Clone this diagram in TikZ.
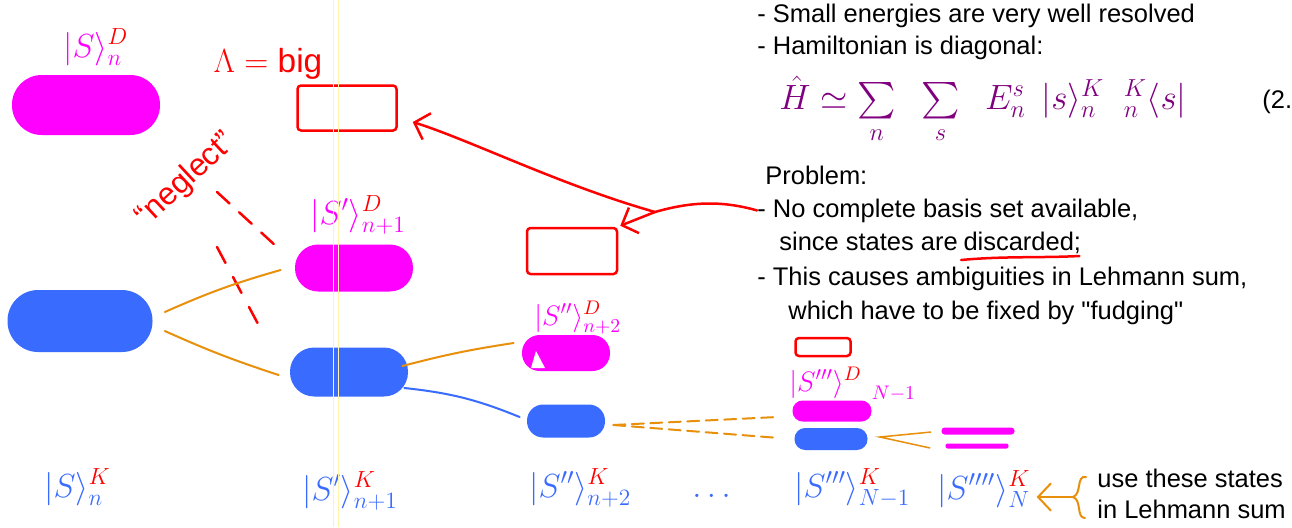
\documentclass[tikz,border=0pt]{standalone}
\usepackage{fix-cm}
\usepackage{exscale}
\usepackage{fontspec}
\setmainfont{Liberation Sans}
\newfontfamily\notefont{Liberation Sans}
\usetikzlibrary{arrows.meta,positioning,calc}
\definecolor{stateMag}{HTML}{FF00FF}
\definecolor{stateBlue}{HTML}{3A6BFF}
\definecolor{linkOrange}{HTML}{E8900C}
\definecolor{markRed}{HTML}{FF0000}
\definecolor{eqPurple}{HTML}{800080}
\definecolor{pageYellow}{HTML}{FFF4A8}

\begin{document}
\begin{tikzpicture}[
    x=0.2mm, y=-0.2mm,
    >={Straight Barb[length=2.6mm,width=5.5mm]},
    pill/.style 2 args={rectangle, inner sep=0pt, draw=none, minimum width=#1*0.2mm, minimum height=#2*0.2mm, rounded corners=#2*0.1mm-0.2pt},
    magstate/.style={fill=stateMag},
    bluestate/.style={fill=stateBlue},
    cutbox/.style 2 args={rectangle, inner sep=0pt, draw=markRed, line width=0.5mm, rounded corners=2pt, minimum width=#1*0.2mm, minimum height=#2*0.2mm},
    dlabel/.style={anchor=base west, inner sep=0pt, text=stateMag, font=\fontsize{19}{22}\selectfont},
    klabel/.style={anchor=base west, inner sep=0pt, text=stateBlue, font=\fontsize{19}{22}\selectfont},
    txt/.style={anchor=base west, inner sep=0pt, font=\notefont\fontsize{14.5}{17}\selectfont},
    redpen/.style={draw=markRed, line width=0.5mm, line cap=round},
    orangepen/.style={draw=linkOrange, line width=0.4mm, line cap=round},
    bluepen/.style={draw=stateBlue, line width=0.4mm, line cap=round},
  ]
  \useasboundingbox (0,0) rectangle (1292,527);
  \fill[white] (0,0) rectangle (1292,527);

  % States (D = discarded, magenta; K = kept, blue)
  \node[pill={148}{60}, magstate] (mS)  at (86,105) {};
  \node[pill={145}{62}, bluestate] (bS) at (80,321) {};
  \node[pill={118}{47}, magstate] (mS1)  at (354,268) {};
  \node[pill={118}{49}, bluestate] (bS1) at (349,372) {};
  \node[pill={88}{36}, magstate] (mS2)  at (566,353) {};
  \node[pill={78}{33}, bluestate] (bS2) at (566,421) {};
  \node[pill={79}{21}, magstate] (mS3)  at (832,411) {};
  \node[pill={73}{22}, bluestate] (bS3) at (831,439) {};
  \node[pill={73}{7}, magstate] (mS4a) at (978,431) {};
  \node[pill={63}{5}, magstate] (mS4b) at (977,446) {};
  \fill[white] (531,368) -- (545,368) -- (536,351) -- cycle;

  % Empty boxes
  \node[cutbox={99}{45}] (cut1) at (347,108) {};
  \node[cutbox={90}{46}] (cut2) at (572,251) {};
  \node[cutbox={55}{18}] (cut3) at (823,347) {};

  % D labels
  \node[dlabel] (lmS)  at (63,57)   {$|S\rangle^{{\color{markRed}D}}_{n}$};
  \node[dlabel] (lmS1) at (310,224) {$|S'\rangle^{{\color{markRed}D}}_{n+1}$};
  \node[dlabel, font=\fontsize{16}{19}\selectfont] (lmS2) at (534,325) {$|S''\rangle^{{\color{markRed}D}}_{n+2}$};
  \node[dlabel, font=\fontsize{16}{19}\selectfont] (lmS3) at (789,391) {$|S'''\rangle^{{\color{markRed}D}}_{\quad N-1}$};

  % K labels
  \node[klabel] (lbS)  at (44,497)  {$|S\rangle^{{\color{markRed}K}}_{n}$};
  \node[klabel] (lbS1) at (302,500) {$|S'\rangle^{{\color{markRed}K}}_{n+1}$};
  \node[klabel] (lbS2) at (529,497) {$|S''\rangle^{{\color{markRed}K}}_{n+2}$};
  \node[klabel] (dots) at (692,497) {$\dots$};
  \node[klabel] (lbS3) at (794,497) {$|S'''\rangle^{{\color{markRed}K}}_{N-1}$};
  \node[klabel] (lbN)  at (937,499) {$|S''''\rangle^{{\color{markRed}K}}_{N}$};

  % Red notes
  \node[text=markRed, font=\fontsize{19}{22}\selectfont] (big) at (268,64) {$\Lambda = \mathrm{big}$};
  \node[text=markRed, rotate=43, font=\notefont\fontsize{18}{20}\selectfont] (neg) at (186,180) {“neglect”};
  \coordinate (ngA) at (217,192);
  \coordinate (ngAend) at (277,247);
  \coordinate (ngB) at (217,247);
  \coordinate (ngBend) at (265,337);
  \draw[redpen, dash pattern=on 3.4mm off 2.6mm] (ngA) -- (ngAend);
  \draw[redpen, dash pattern=on 3.6mm off 3.2mm] (ngB) -- (ngBend);

  % Connectors between states
  \draw[orangepen] ($(bS.east)+(12,-9)$) to[bend left=4] ($(mS1.west)+(-14,2)$);
  \draw[orangepen] ($(bS.east)+(12,10)$) to[bend right=3] ($(mS1.west |- bS1.west)+(-16,3)$);
  \draw[orangepen] ($(bS1.east)+(-6,-6)$) to[bend left=3] ($(mS2.west)+(-8,-10)$);
  \draw[bluepen] ($(bS1.east)+(-4,16)$) to[bend left=8] ($(bS2.west)+(-7,-4)$);
  \draw[orangepen, dash pattern=on 2.4mm off 1.3mm] ($(bS2.east)+(8,4)$) -- ($(mS3.west)+(-15,6)$);
  \draw[orangepen, dash pattern=on 2.4mm off 1.3mm] ($(bS2.east)+(8,4)$) -- ($(bS3.west)+(-15,-1)$);
  \draw[draw=linkOrange, line width=0.3mm] ($(mS4a.west)+(-10,1)$) -- ($(bS3.east)+(12,-2)$) -- ($(mS4b.west)+(-15,2)$);

  % Text
  \node[txt] (t1) at (757,22) {- Small energies are very well resolved};
  \node[txt] (t2) at (757,54) {- Hamiltonian is diagonal:};
  \node[text=eqPurple, font=\fontsize{20}{24}\selectfont] (eq) at (983,110)
    {$\hat{H} \simeq \sum\limits_{n}\;\; \sum\limits_{s}\;\; E^{s}_{n}\;\, |s\rangle^{K}_{n}\;\; {}^{K}_{n}\langle s|$};
  \node[txt] (eqn) at (1262,108) {(2.};
  \node[txt] (p0) at (765,184) {Problem:};
  \node[txt] (p1) at (757,217) {- No complete basis set available,};
  \node[txt] (p2) at (779,250) {since states are};
  \node[txt, right=1mm of p2.base east, anchor=base west] (disc) {discarded;};
  \node[txt] (p3) at (757,285) {- This causes ambiguities in Lehmann sum,};
  \node[txt] (p4) at (788,319) {which have to be fixed by "fudging"};
  \node[txt] (use1) at (1097,487) {use these states};
  \node[txt] (use2) at (1097,518) {in Lehmann sum};

  % Red marks on the text
  \draw[redpen] ($(disc.base west)+(-2,10)$) .. controls ($(disc.base west)+(40,6)$) and ($(disc.base east)+(-40,8)$) .. ($(disc.base east)+(-2,6)$);
  \coordinate (fork) at (655,212);
  \draw[redpen] (p1.west) .. controls (720,200) and (690,202) .. (fork);
  \draw[redpen, ->] (fork) .. controls (560,185) and (470,140) .. ($(cut1.east)+(15,14)$);
  \draw[redpen, ->] (fork) -- ($(cut2.north east)+(2,-1)$);

  % Brace and arrow to the final states
  \draw[orangepen] (1086,477) .. controls (1076,475) and (1082,494) .. (1073,497)
                    .. controls (1082,500) and (1076,518) .. (1085,518);
  \coordinate (brc) at (1072,497);
  \draw[orangepen, ->] (brc) -- ($(lbN.east |- brc)+(6,0)$);

  % Page edge
  \draw[pageYellow, line width=0.15mm] (333,0) -- (333,527);
  \draw[pageYellow, line width=0.15mm] (338,0) -- (338,527);
\end{tikzpicture}
\end{document}
